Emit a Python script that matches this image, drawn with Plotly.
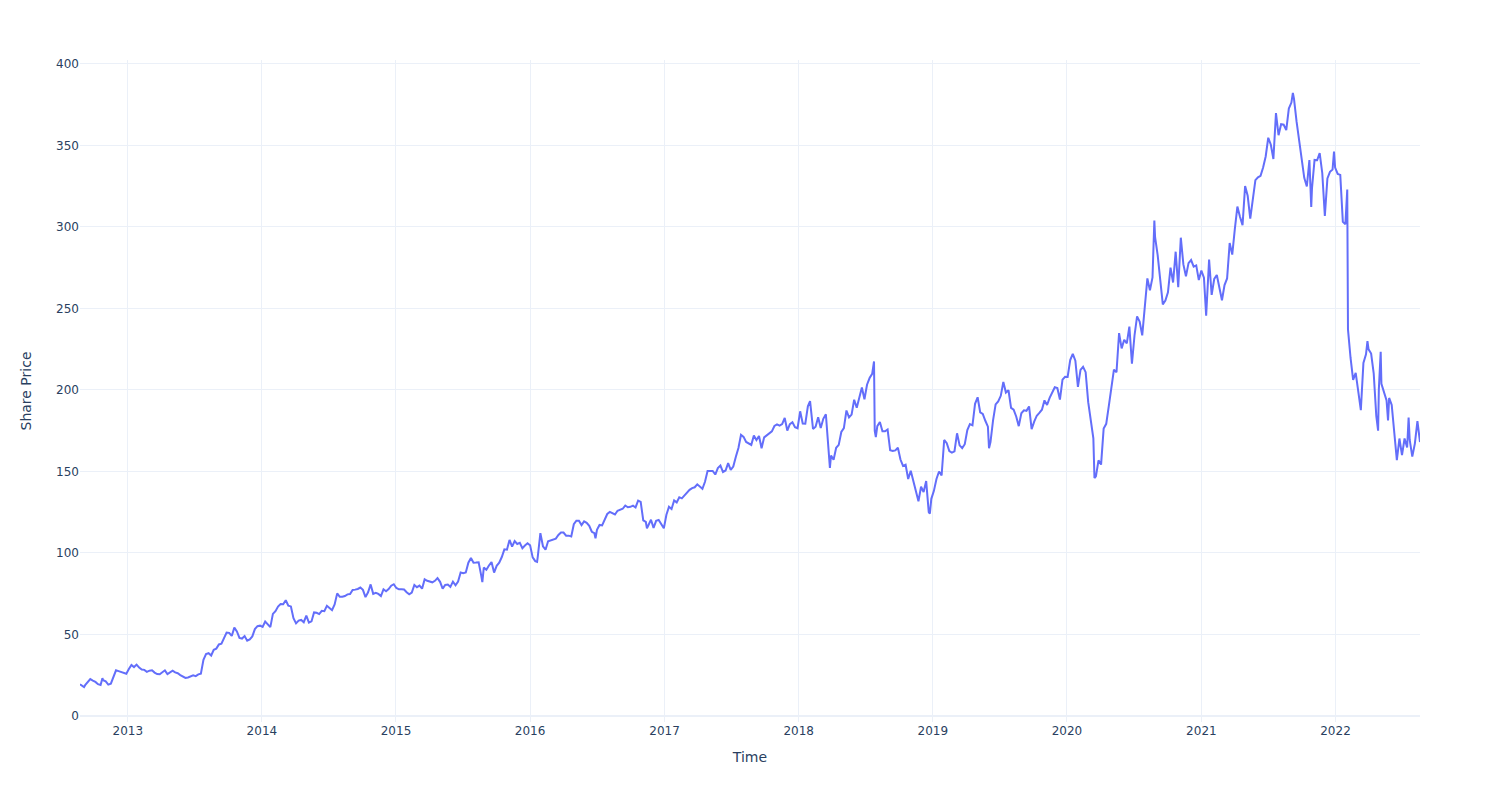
import pandas as pd
import plotly.graph_objects as go

# Weekly (Friday) share-price readings, one list per calendar year
p2012 = [19.4, 18.1, 18.9, 20.8, 22.6, 21.7, 20.9, 19.5, 19.0, 21.9, 21.2, 19.2, 19.8, 24.0, 28.0,
         27.5, 26.8, 26.3, 25.9]
p2013 = [28.8, 31.3, 30.0, 31.5, 29.7, 28.5, 28.3, 27.1, 27.8, 28.0, 26.6, 25.7, 25.6, 27.1, 28.0,
         25.7, 26.9, 27.8, 26.7, 26.2, 25.1, 24.4, 23.3, 23.6, 24.5, 24.9, 24.4, 25.5, 25.9, 34.4,
         38.0, 38.5, 37.1, 40.6, 41.3, 43.9, 44.3, 47.5, 51.2, 51.0, 49.1, 54.2, 51.9, 47.9, 47.5,
         49.0, 46.2, 47.0, 48.8, 53.3, 55.1, 55.4]
p2014 = [54.6, 57.9, 56.3, 54.5, 62.6, 64.3, 67.1, 68.6, 68.5, 71.0, 67.7, 67.2, 60.0, 56.8, 58.5,
         58.9, 57.5, 61.5, 57.2, 58.0, 63.5, 63.3, 62.5, 64.5, 64.3, 67.6, 66.3, 64.9, 68.4, 75.2,
         73.1, 73.1, 73.6, 74.6, 74.8, 77.3, 77.5, 77.9, 78.8, 77.4, 72.9, 75.9, 80.7, 74.9, 75.6,
         74.9, 73.6, 77.7, 76.5, 77.8, 79.9, 80.8]
p2015 = [78.5, 77.7, 77.7, 77.6, 75.9, 74.6, 75.7, 80.4, 79.0, 80.0, 78.1, 83.8, 82.9, 82.3, 82.0,
         82.9, 84.6, 82.3, 78.1, 80.4, 80.6, 79.2, 82.4, 80.2, 82.5, 88.0, 87.6, 88.0, 94.0, 96.9,
         94.0, 94.1, 94.3, 86.1, 91.0, 89.7, 92.3, 94.4, 88.0, 92.1, 94.0, 97.5, 102.2, 102.0, 108.0,
         103.9, 107.3, 105.5, 106.2, 102.9, 104.6, 105.9]
p2016 = [104.7, 97.3, 95.0, 97.9, 112.2, 104.1, 102.0, 107.2, 107.9, 108.4, 108.8, 111.0, 112.5,
         112.5, 110.6, 110.6, 110.1, 117.6, 119.8, 119.8, 117.1, 119.4, 118.5, 116.6, 113.0, 112.1,
         114.2, 117.2, 116.9, 121.0, 123.9, 125.2, 124.4, 123.6, 125.9, 126.5, 127.1, 129.1, 128.0,
         128.3, 129.0, 127.9, 132.1, 131.3, 120.0, 119.0, 117.0, 120.4, 115.4, 119.7, 120.3, 117.3,
         115.1]
p2017 = [123.4, 128.3, 127.0, 132.2, 131.0, 134.2, 133.5, 135.4, 137.4, 138.7, 139.8, 140.3, 142.1,
         140.8, 139.4, 143.7, 150.3, 150.2, 150.3, 148.1, 152.1, 153.6, 149.6, 150.6, 155.1, 151.0,
         153.0, 159.0, 164.4, 172.5, 171.2, 168.1, 167.4, 166.3, 172.0, 169.2, 171.7, 164.2, 170.9,
         172.2, 173.7, 174.6, 177.9, 178.9, 178.1, 179.0, 182.8, 175.1, 179.0, 180.2, 177.2, 176.5]
p2018 = [186.9, 179.4, 179.3, 190.0, 190.3, 176.1, 177.4, 183.3, 176.6, 182.3, 185.1, 159.4, 159.8,
         157.2, 164.5, 166.3, 174.2, 176.6, 187.4, 183.2, 184.9, 194.0, 189.1, 195.1, 201.5, 194.3,
         203.2, 207.3, 209.9, 174.9, 177.8, 180.3, 174.7, 174.6, 175.7, 163.0, 162.5, 162.9, 164.5,
         157.3, 153.4, 154.1, 145.4, 150.4, 144.2, 139.5, 131.7, 140.6, 137.4, 144.1, 125.0, 133.2]
p2019 = [138.1, 145.4, 150.0, 147.5, 169.3, 167.3, 162.5, 161.5, 162.3, 173.4, 166.0, 164.3, 166.7,
         175.4, 179.1, 178.3, 191.5, 195.5, 186.3, 185.3, 181.1, 177.5, 168.0, 181.3, 191.1, 193.0,
         196.4, 204.9, 198.4, 199.8, 189.0, 187.9, 183.7, 177.8, 185.7, 187.5, 187.2, 189.9, 176.0,
         180.5, 184.2, 185.9, 187.9, 193.6, 190.8, 195.1, 198.8, 201.6, 201.1, 194.1, 206.3, 208.1]
p2020 = [208.0, 218.3, 222.1, 217.9, 201.9, 212.3, 214.2, 210.9, 192.5, 181.1, 170.3, 147.0, 156.8,
         154.2, 176.3, 179.2, 190.1, 202.3, 212.4, 210.9, 234.9, 225.5, 230.8, 228.6, 238.8, 216.1,
         233.4, 245.1, 242.0, 233.5, 253.7, 268.4, 261.2, 269.0, 293.7, 282.7, 266.6, 252.5, 254.8,
         259.9, 275.0, 265.9, 284.8, 263.1, 293.4, 277.0, 269.7, 277.8, 279.7, 275.6, 276.4, 267.4]
p2021 = [273.2, 268.9, 251.4, 280.0, 258.3, 268.1, 270.5, 261.6, 255.0, 264.3, 268.4, 290.1, 283.0,
         298.7, 312.5, 306.2, 301.1, 325.1, 319.1, 305.1, 316.2, 328.7, 330.4, 331.3, 336.5, 343.2,
         354.7, 350.4, 341.7, 369.8, 356.3, 363.0, 362.7, 359.4, 372.6, 376.3, 378.7, 364.7, 353.0,
         343.0, 330.1, 324.8, 341.0, 323.6, 341.1, 340.9, 345.3, 333.1, 306.8, 329.8, 333.8, 335.2,
         336.4]
p2022 = [332.5, 331.9, 303.2, 301.7, 237.1, 219.6, 206.2, 210.5, 200.1, 187.6, 216.5, 221.8, 224.9,
         222.3, 210.2, 184.1, 200.5, 203.8, 198.6, 193.5, 195.1, 190.8, 175.6, 157.0, 170.2, 160.0,
         170.2, 164.7, 169.3, 159.1, 167.1, 180.9, 168.0]

# First Friday of each yearly list
year_starts = ["2012-08-24", "2013-01-04", "2014-01-03", "2015-01-02", "2016-01-01", "2017-01-06",
               "2018-01-05", "2019-01-04", "2020-01-03", "2021-01-01", "2022-01-07"]

# Notable single-day readings between the weekly points
event_dates = ["2012-09-04", "2012-10-24", "2015-08-24", "2016-01-20", "2016-06-27", "2016-11-14",
               "2018-02-01", "2018-03-27", "2018-07-25", "2018-07-30", "2018-12-24", "2019-06-03",
               "2020-03-16", "2020-08-26", "2021-01-14", "2021-09-07", "2021-10-27", "2021-12-28",
               "2022-02-02", "2022-02-03", "2022-03-29", "2022-04-27", "2022-05-04", "2022-05-24",
               "2022-07-19"]
event_values = [17.7, 23.2, 82.1, 94.5, 109.0, 115.1, 193.1, 152.2, 217.5, 171.1, 124.1, 164.2,
                146.0, 303.9, 245.6, 382.2, 312.2, 346.2, 323.0, 237.8, 229.9, 175.0, 223.4, 181.3,
                183.1]

yearly = [p2012, p2013, p2014, p2015, p2016, p2017, p2018, p2019, p2020, p2021, p2022]
frames = []
for start, vals in zip(year_starts, yearly):
    d = pd.date_range(start=start, periods=len(vals), freq="7D")
    frames.append(pd.DataFrame({"Date": d, "Close": vals}))
frames.append(pd.DataFrame({"Date": pd.to_datetime(event_dates), "Close": event_values}))
df = pd.concat(frames).sort_values("Date").drop_duplicates("Date").reset_index(drop=True)

fig = go.Figure(go.Scatter(x=df["Date"], y=df["Close"], mode="lines",
                           line=dict(color="#636efa", width=2)))
fig.update_layout(
    template="plotly_white",
    width=1500, height=800,
    font=dict(family="DejaVu Sans"),
    margin=dict(l=80, r=80, t=60, b=78),
    xaxis=dict(title=dict(text="Time")),
    yaxis=dict(title=dict(text="Share Price", standoff=21), range=[-3.7, 402.4], dtick=50),
    showlegend=False,
)
fig.write_html("out.html")
